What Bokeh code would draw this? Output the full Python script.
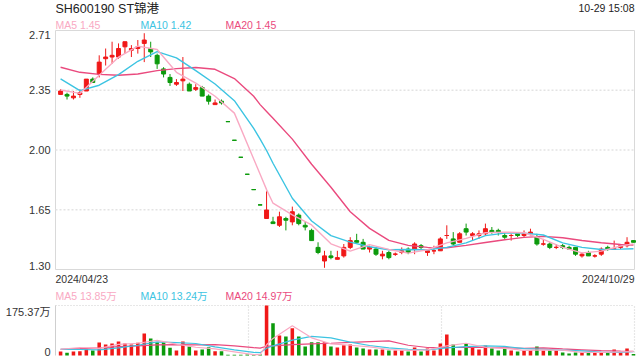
from bokeh.plotting import figure
from bokeh.layouts import column
from bokeh.models import ColumnDataSource, Range1d
from bokeh.core.properties import value
from bokeh.embed import file_html
from bokeh.resources import INLINE

# ---------------- data ----------------
title_text = "SH600190 ST锦港"
time_text = "10-29 15:08"
start_date = "2024/04/23"
end_date = "2024/10/29"

opens = [2.33, 2.33, 2.31, 2.33, 2.35, 2.42, 2.45, 2.54, 2.55, 2.55,
         2.61, 2.59, 2.60, 2.63, 2.60, 2.56, 2.48, 2.43, 2.39, 2.41,
         2.39, 2.36, 2.37, 2.32, 2.27, 2.29, 2.17, 2.06, 1.96, 1.86,
         1.77, 1.68, 1.60, 1.58, 1.56, 1.60, 1.58, 1.62, 1.56, 1.53,
         1.43, 1.35, 1.38, 1.36, 1.38, 1.43, 1.47, 1.46, 1.42, 1.42,
         1.38, 1.40, 1.39, 1.40, 1.42, 1.42, 1.44, 1.40, 1.41, 1.41,
         1.50, 1.48, 1.46, 1.54, 1.50, 1.50, 1.51, 1.53, 1.53, 1.50,
         1.50, 1.51, 1.50, 1.51, 1.49, 1.45, 1.45, 1.43, 1.44, 1.43,
         1.43, 1.38, 1.40, 1.38, 1.39, 1.43, 1.42, 1.43, 1.44, 1.47]
highs = [2.36, 2.34, 2.35, 2.36, 2.42, 2.43, 2.56, 2.60, 2.64, 2.63,
         2.64, 2.62, 2.65, 2.69, 2.64, 2.57, 2.49, 2.45, 2.42, 2.55,
         2.40, 2.39, 2.38, 2.33, 2.30, 2.30, 2.17, 2.06, 1.96, 1.86,
         1.77, 1.68, 1.76, 1.61, 1.64, 1.61, 1.67, 1.63, 1.58, 1.54,
         1.46, 1.41, 1.41, 1.41, 1.45, 1.49, 1.51, 1.48, 1.44, 1.43,
         1.41, 1.41, 1.40, 1.43, 1.43, 1.46, 1.45, 1.42, 1.44, 1.49,
         1.56, 1.52, 1.52, 1.57, 1.52, 1.53, 1.57, 1.55, 1.54, 1.52,
         1.51, 1.51, 1.53, 1.54, 1.51, 1.48, 1.46, 1.45, 1.45, 1.44,
         1.43, 1.40, 1.41, 1.39, 1.43, 1.44, 1.47, 1.45, 1.49, 1.47]
lows = [2.33, 2.30, 2.30, 2.31, 2.35, 2.40, 2.43, 2.50, 2.51, 2.54,
        2.57, 2.55, 2.57, 2.52, 2.55, 2.48, 2.43, 2.38, 2.38, 2.35,
        2.35, 2.35, 2.32, 2.27, 2.27, 2.27, 2.17, 2.06, 1.96, 1.86,
        1.77, 1.68, 1.60, 1.57, 1.55, 1.53, 1.56, 1.56, 1.53, 1.47,
        1.39, 1.31, 1.36, 1.36, 1.37, 1.42, 1.46, 1.42, 1.40, 1.38,
        1.36, 1.36, 1.38, 1.39, 1.39, 1.39, 1.42, 1.38, 1.39, 1.41,
        1.48, 1.44, 1.46, 1.50, 1.47, 1.48, 1.50, 1.51, 1.50, 1.48,
        1.47, 1.49, 1.49, 1.50, 1.44, 1.44, 1.42, 1.42, 1.42, 1.42,
        1.38, 1.37, 1.38, 1.37, 1.38, 1.41, 1.42, 1.42, 1.43, 1.46]
closes = [2.35, 2.32, 2.32, 2.34, 2.42, 2.40, 2.52, 2.55, 2.56, 2.60,
          2.64, 2.60, 2.61, 2.65, 2.58, 2.51, 2.45, 2.40, 2.40, 2.42,
          2.35, 2.37, 2.32, 2.29, 2.28, 2.28, 2.17, 2.06, 1.96, 1.86,
          1.77, 1.68, 1.65, 1.57, 1.61, 1.59, 1.64, 1.57, 1.55, 1.47,
          1.40, 1.38, 1.37, 1.37, 1.43, 1.47, 1.46, 1.42, 1.43, 1.39,
          1.39, 1.37, 1.39, 1.41, 1.40, 1.45, 1.43, 1.41, 1.41, 1.48,
          1.50, 1.45, 1.51, 1.52, 1.51, 1.51, 1.54, 1.52, 1.52, 1.49,
          1.50, 1.50, 1.51, 1.52, 1.45, 1.45, 1.43, 1.43, 1.43, 1.42,
          1.39, 1.39, 1.38, 1.38, 1.42, 1.42, 1.42, 1.44, 1.46, 1.46]
# volume in 万
volumes = [14.0, 9.4, 14.0, 15.2, 23.4, 17.5, 45.6, 38.6, 42.1, 49.1,
           42.1, 38.6, 44.4, 77.2, 59.6, 46.8, 46.8, 26.9, 17.5, 49.1,
           31.6, 17.5, 21.0, 29.2, 15.2, 15.2, 2.3, 2.3, 2.3, 3.5,
           3.5, 3.5, 175.37, 113.4, 70.1, 66.6, 95.9, 66.6, 31.6, 46.8,
           46.8, 46.8, 31.6, 28.1, 36.2, 38.6, 28.1, 24.6, 21.0, 21.0,
           21.0, 17.5, 17.5, 17.5, 14.0, 28.1, 14.0, 24.6, 17.5, 42.1,
           73.7, 38.6, 17.5, 43.3, 28.1, 21.0, 35.1, 24.6, 17.5, 24.6,
           17.5, 14.0, 17.5, 17.5, 31.6, 17.5, 17.5, 17.5, 10.5, 7.0,
           10.5, 10.5, 10.5, 10.5, 10.5, 10.5, 21.0, 10.5, 24.6, 5.0]

# moving averages read at these candle positions
ma_idx = [0, 3, 6, 9, 12, 15, 18, 21, 24, 27, 30, 31, 32, 33, 36, 39, 42, 45,
          48, 51, 54, 57, 60, 63, 66, 69, 72, 75, 78, 81, 84, 87, 89]
ma5 = [2.356, 2.336, 2.443, 2.549, 2.614, 2.594, 2.460, 2.397, 2.319, 2.220,
       1.950, 1.860, 1.770, 1.690, 1.621, 1.562, 1.451, 1.408, 1.446, 1.418,
       1.396, 1.416, 1.457, 1.483, 1.516, 1.520, 1.516, 1.477, 1.430, 1.398,
       1.408, 1.438, 1.451]
ma10 = [2.421, 2.352, 2.384, 2.446, 2.525, 2.582, 2.545, 2.470, 2.391, 2.293,
        2.130, 2.067, 2.000, 1.925, 1.719, 1.585, 1.499, 1.461, 1.434, 1.416,
        1.418, 1.416, 1.430, 1.457, 1.499, 1.514, 1.514, 1.503, 1.457, 1.430,
        1.418, 1.420, 1.422]
ma20 = [2.490, 2.460, 2.448, 2.443, 2.450, 2.470, 2.482, 2.488, 2.478, 2.423,
        2.319, 2.270, 2.230, 2.190, 2.067, 1.919, 1.784, 1.640, 1.542, 1.471,
        1.442, 1.430, 1.428, 1.442, 1.459, 1.475, 1.489, 1.495, 1.487, 1.471,
        1.457, 1.447, 1.444]
vma5 = [22, 28, 25, 39, 43, 53, 40, 29, 23, 13, 3, 3.2, 37.6, 60, 104, 62, 41,
        36, 30, 21, 18, 20, 34, 43, 29, 25, 18, 20, 19, 11, 11, 13, 13.85]
vma10 = [22, 21, 20, 27, 36, 48, 45, 42, 30, 20, 11, 9.8, 25.2, 34, 54, 67, 62,
         47, 35, 27, 22, 20, 27, 31, 34, 32, 24, 22, 19, 16, 12, 11, 13.24]
vma20 = [22, 24, 27, 31, 34, 37, 38, 37, 38, 34, 27.5, 25.8, 32.3, 34.1, 38, 41,
         43, 46, 49, 51, 36, 28, 28, 28, 28, 27, 25.5, 27, 23, 20, 17, 15.2, 14.97]

price_min, price_max = 1.30, 2.706
price_tick_labels = ["2.71", "2.35", "2.00", "1.65", "1.30"]
vol_max = 175.37
vol_tick_labels = ["175.37万", "0"]
legend_labels = ["MA5 1.45", "MA10 1.42", "MA20 1.45"]
vol_legend_labels = ["MA5 13.85万", "MA10 13.24万", "MA20 14.97万"]

# ---------------- style / layout ----------------
FONT = value("Liberation Sans, Noto Sans CJK SC")
RED = "#f01818"
GREEN = "#0c9a0c"
MA_COLORS = ["#f9a9c3", "#3cc4e2", "#ea4a7e"]
TXT = "#333333"
GRID = "#e3e3e3"
BORDER = "#d9d9d9"

W = 640
H1, H2 = 287, 73             # heights of the two canvases (page 0-287, 287-360)
FL, FR = 55, 634             # panel left / right (page px)
T1, B1 = 30, 269             # price panel top / bottom (page px)
T2, B2 = 18, 68              # volume panel top / bottom (canvas px of second figure)
x_lo, x_hi = -0.79, 89.16    # index range shown inside the panels

xpp = (x_hi - x_lo) / (FR - FL)
ypp = (price_max - price_min) / (B1 - T1)
vpp = vol_max / (B2 - T2)
x_range = Range1d(x_lo - FL * xpp, x_hi + (W - FR) * xpp)
y1_range = Range1d(price_min - (H1 - B1) * ypp, price_max + T1 * ypp)
y2_range = Range1d(-(H2 - B2) * vpp, vol_max + T2 * vpp)


def fx(px):
    return x_range.start + px * xpp


def fy1(py):
    return y1_range.end - py * ypp


def fy2(py):
    return y2_range.end - py * vpp


n = len(closes)
xs = list(range(n))
prev_close = [opens[0]] + closes[:-1]
up = [(c > o) or (c == o and c >= pc) for o, c, pc in zip(opens, closes, prev_close)]
colors = [RED if u else GREEN for u in up]
src = ColumnDataSource(dict(
    x=xs, h=highs, l=lows,
    top=[max(o, c) for o, c in zip(opens, closes)],
    bot=[min(o, c) for o, c in zip(opens, closes)],
    color=colors, vol=volumes))
doji = [i for i in xs if opens[i] == closes[i]]
doji_src = ColumnDataSource(dict(
    x0=[i - 0.31 for i in doji], x1=[i + 0.31 for i in doji],
    y=[opens[i] for i in doji], color=[colors[i] for i in doji]))


def base_fig(h, yr):
    f = figure(width=W, height=h, x_range=x_range, y_range=yr,
               x_axis_type=None, y_axis_type=None,
               output_backend="svg", toolbar_location=None,
               min_border=0, outline_line_color=None,
               background_fill_color="white", border_fill_color="white")
    return f


def txt(f, x, y, t, color=TXT, size="11px", align="left", baseline="middle"):
    f.text(x=[x], y=[y], text=[t], text_font=FONT, text_font_size=size,
           text_color=color, text_align=align, text_baseline=baseline)


# ---------------- main price panel ----------------
p1 = base_fig(H1, y1_range)
p1.quad(left=[x_lo], right=[x_hi], top=[price_max], bottom=[price_min],
        fill_color=None, line_color=BORDER, line_width=1)

price_ticks = [price_max - k * (price_max - price_min) / 4 for k in range(5)]
for k, (v, t) in enumerate(zip(price_ticks, price_tick_labels)):
    if 0 < k < 4:
        p1.segment(x0=[x_lo], y0=[v], x1=[x_hi], y1=[v], line_color=GRID,
                   line_width=1.5, line_dash="2 2")
    base = "top" if k == 0 else ("bottom" if k == 4 else "middle")
    txt(p1, fx(50), v, t, align="right", baseline=base)

p1.segment(x0="x", y0="l", x1="x", y1="h", color="color", line_width=1, source=src)
p1.vbar(x="x", width=0.62, top="top", bottom="bot", fill_color="color",
        line_color="color", line_width=1, source=src)
p1.segment(x0="x0", y0="y", x1="x1", y1="y", color="color", line_width=1, source=doji_src)

for vals, col in zip([ma20, ma10, ma5], [MA_COLORS[2], MA_COLORS[1], MA_COLORS[0]]):
    p1.line(ma_idx, vals, line_color=col, line_width=1.4)

txt(p1, fx(FL), fy1(8), title_text, color="#222222", size="12.5px")
txt(p1, fx(FR), fy1(7), time_text, color="#222222", size="10.5px", align="right")
for j, (t, col) in enumerate(zip(legend_labels, MA_COLORS)):
    txt(p1, fx(FL + 85 * j), fy1(24), t, color=col, size="10.5px")
txt(p1, fx(FL), fy1(278), start_date, size="10.5px")
txt(p1, fx(FR), fy1(278), end_date, size="10.5px", align="right")

# ---------------- volume panel ----------------
p2 = base_fig(H2, y2_range)
p2.segment(x0=[x_lo], y0=[vol_max], x1=[x_hi], y1=[vol_max], line_color="#cfcfcf",
           line_width=1.2, line_dash="1 2")
p2.segment(x0=[x_lo], y0=[0], x1=[x_lo], y1=[vol_max], line_color="#cfcfcf", line_width=1)
for k in (1, 2, 3):
    xv = x_lo + (x_hi - x_lo) * k / 3
    p2.segment(x0=[xv], y0=[0], x1=[xv], y1=[vol_max], line_color="#cfcfcf",
               line_width=1.2, line_dash="1 2")

p2.vbar(x="x", width=0.55, top="vol", bottom=0, fill_color="color",
        line_color=None, source=src)
for vals, col in zip([vma20, vma10, vma5], [MA_COLORS[2], MA_COLORS[1], MA_COLORS[0]]):
    p2.line(ma_idx, vals, line_color=col, line_width=1.2)

txt(p2, fx(50), vol_max, vol_tick_labels[0], align="right", baseline="top")
txt(p2, fx(50), 0, vol_tick_labels[1], align="right", baseline="bottom")
for j, (t, col) in enumerate(zip(vol_legend_labels, MA_COLORS)):
    txt(p2, fx(FL + 85 * j), fy2(8), t, color=col, size="10.5px")

layout = column(p1, p2, spacing=0)
open("out.html", "w").write(file_html(layout, INLINE))
